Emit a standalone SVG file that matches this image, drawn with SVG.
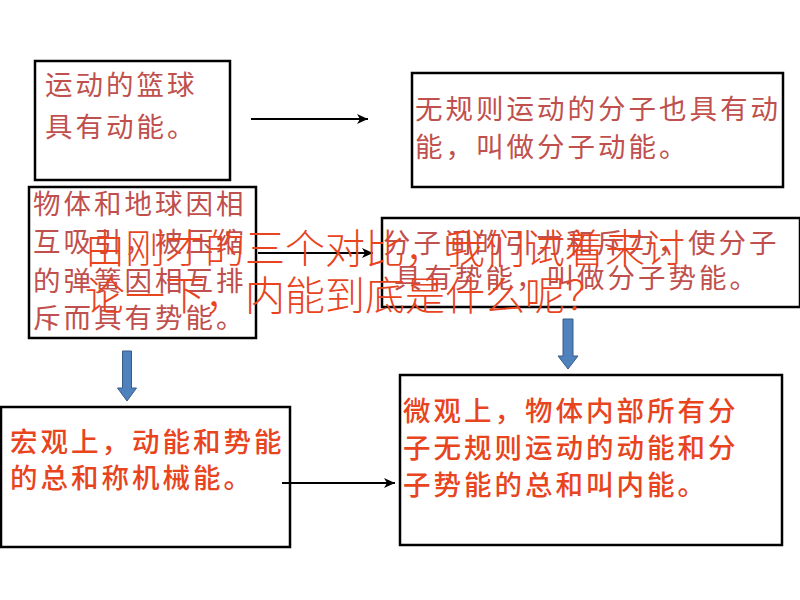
<svg xmlns="http://www.w3.org/2000/svg" width="800" height="600" viewBox="0 0 800 600">
<style>
.box{fill:#ffffff;stroke:#000000;stroke-width:2.5}
.t1{font-family:"Noto Sans CJK SC","Noto Sans CJK JP",sans-serif;font-size:27.5px;letter-spacing:3px;fill:#c0504d}
.t2{font-family:"Noto Sans CJK SC","Noto Sans CJK JP",sans-serif;font-size:27.5px;font-weight:500;letter-spacing:3px;fill:#e8441e}
.ov{font-family:"Noto Sans CJK SC","Noto Sans CJK JP",sans-serif;font-size:40px;font-weight:300;fill:#e8441e}
.conn{stroke:#000000;stroke-width:2;fill:none}
.blk{fill:#4f81bd;stroke:#385d8a;stroke-width:1}
</style>
<defs>
<marker id="ah" markerWidth="12" markerHeight="10" refX="11" refY="5" orient="auto" markerUnits="userSpaceOnUse">
<path d="M0,0 L11,5 L0,10 L3,5 Z" fill="#000000"/>
</marker>
</defs>
<rect width="800" height="600" fill="#ffffff"/>
<g id="node-basketball">
<rect class="box" x="35" y="61" width="195" height="119"/>
<text class="t1" x="45" y="95">运动的篮球</text>
<text class="t1" x="45" y="137">具有动能。</text>
</g>
<g id="node-molecule-kinetic">
<rect class="box" x="412" y="73" width="371" height="114"/>
<text class="t1" x="415" y="119">无规则运动的分子也具有动</text>
<text class="t1" x="415" y="157">能，叫做分子动能。</text>
</g>
<g id="node-potential">
<rect class="box" x="29" y="187" width="227" height="151"/>
<text class="t1" x="33" y="214">物体和地球因相</text>
<text class="t1" x="33" y="252">互吸引，被压缩</text>
<text class="t1" x="33" y="291">的弹簧因相互排</text>
<text class="t1" x="33" y="328">斥而具有势能。</text>
</g>
<g id="node-molecule-potential">
<rect class="box" x="382" y="218" width="418" height="89"/>
<text class="t1" x="383" y="253">分子间的引力和斥力，使分子</text>
<text class="t1" x="394" y="288">具有势能，叫做分子势能。</text>
</g>
<g id="node-macro">
<rect class="box" x="1" y="407" width="289" height="140"/>
<text class="t2" x="10" y="452">宏观上，动能和势能</text>
<text class="t2" x="10" y="488">的总和称机械能。</text>
</g>
<g id="node-micro">
<rect class="box" x="400" y="375" width="382" height="170"/>
<text class="t2" x="403" y="421">微观上，物体内部所有分</text>
<text class="t2" x="403" y="458">子无规则运动的动能和分</text>
<text class="t2" x="403" y="495">子势能的总和叫内能。</text>
</g>
<g id="connectors">
<line class="conn" x1="251" y1="119" x2="368" y2="119" marker-end="url(#ah)"/>
<line class="conn" x1="258" y1="253" x2="373" y2="253" marker-end="url(#ah)"/>
<line class="conn" x1="282" y1="483" x2="395" y2="483" marker-end="url(#ah)"/>
<polygon class="blk" points="122.5,351 131.5,351 131.5,388 136.5,388 127,401 117.5,388 122.5,388"/>
<polygon class="blk" points="563,319 573,319 573,356 578,356 568,369 558,356 563,356"/>
</g>
<g id="overlay-text">
<text class="ov" x="85" y="263">由刚才的三个对比，我们试着来讨</text>
<text class="ov" x="85" y="310">论一下，内能到底是什么呢？</text>
</g>
</svg>
